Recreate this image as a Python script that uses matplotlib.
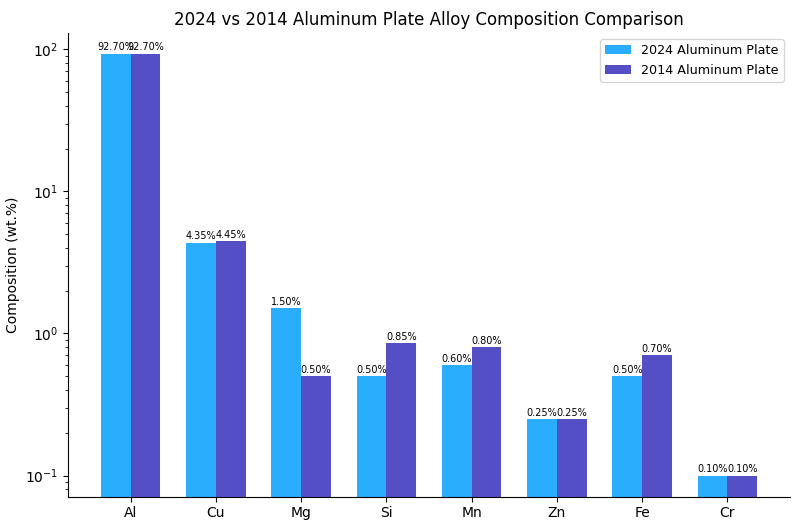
import numpy as np
import matplotlib
matplotlib.use("Agg")
import matplotlib.pyplot as plt

elements = ["Al", "Cu", "Mg", "Si", "Mn", "Zn", "Fe", "Cr"]
alloy_2024 = [92.70, 4.35, 1.50, 0.50, 0.60, 0.25, 0.50, 0.10]
alloy_2014 = [92.70, 4.45, 0.50, 0.85, 0.80, 0.25, 0.70, 0.10]
series_labels = ["2024 Aluminum Plate", "2014 Aluminum Plate"]

c1 = "#2AADFD"
c2 = "#554FC5"

fig = plt.figure(figsize=(8, 5.3), dpi=100)
ax = fig.add_axes([0.085, 0.063, 0.9025, 0.875])

x = np.arange(len(elements))
w = 0.35
b1 = ax.bar(x - w/2, alloy_2024, w, color=c1, label=series_labels[0])
b2 = ax.bar(x + w/2, alloy_2014, w, color=c2, label=series_labels[1])
ax.set_yscale("log")

for bars, vals in ((b1, alloy_2024), (b2, alloy_2014)):
    for rect, v in zip(bars, vals):
        ax.annotate(f"{v:.2f}%", (rect.get_x() + rect.get_width()/2, v),
                    xytext=(0, 1), textcoords="offset points",
                    ha="center", va="bottom", fontsize=7)

ax.set_xticks(x)
ax.set_xticklabels(elements)
ax.set_xlim(-0.735, len(elements) - 1 + 0.735)
ax.set_ylim(10**-1.148, 10**2.115)
ax.set_ylabel("Composition (wt.%)", fontsize=10)
ax.set_title("2024 vs 2014 Aluminum Plate Alloy Composition Comparison", fontsize=12)
ax.spines["top"].set_visible(False)
ax.spines["right"].set_visible(False)
ax.legend(loc="upper right", fontsize=9.2)

fig.savefig("out.png", dpi=100)
